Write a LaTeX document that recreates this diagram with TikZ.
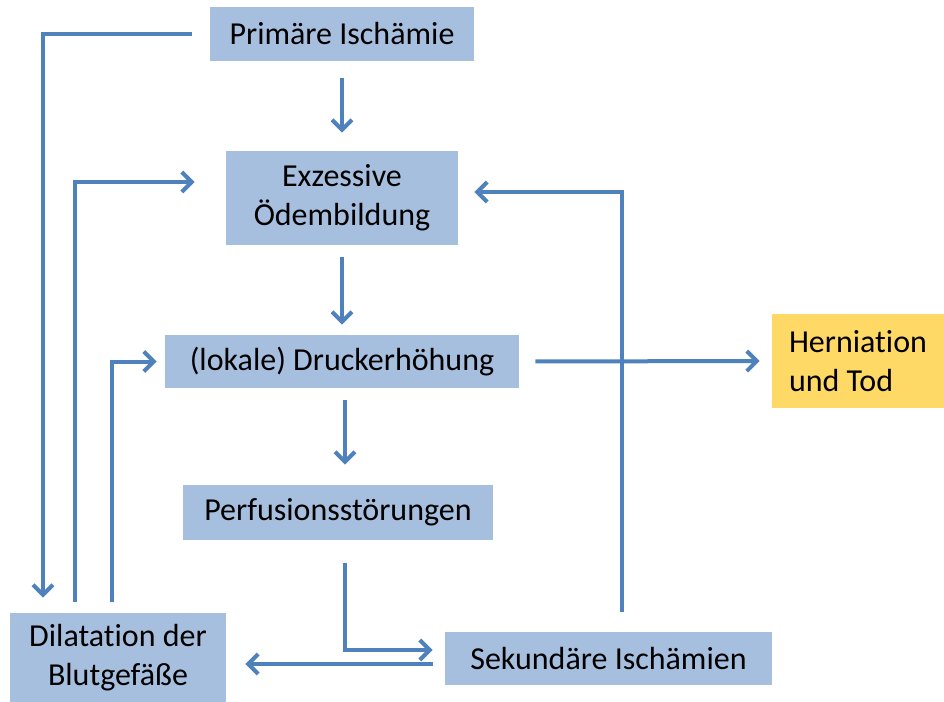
\documentclass[tikz,border=0pt]{standalone}
\usepackage{fontspec}
\setmainfont{Carlito}[Ligatures=NoCommon]
\usetikzlibrary{positioning}
\usetikzlibrary{arrows.meta}

\definecolor{boxblue}{RGB}{167,191,222}
\definecolor{lineblue}{RGB}{79,129,189}
\definecolor{boxgold}{RGB}{255,217,102}

\tikzset{
	box/.style={fill=boxblue, inner sep=0pt, align=center, font=\fontsize{16}{19.5}\selectfont},
	flow/.style={draw=lineblue, line width=2pt, -{Straight Barb[length=5pt,width=10pt]}},
}

\begin{document}
\begin{tikzpicture}[x=0.5pt, y=-0.5pt]
	\useasboundingbox (0,0) rectangle (944,702);

	\node[box, minimum width=132pt, minimum height=27pt] (prim) at (342,34) {Primäre Ischämie};
	\node[box, minimum width=116pt, minimum height=47pt] (oedem) at (342,198) {Exzessive\\Ödembildung};
	\node[box, minimum width=177pt, minimum height=26.5pt] (druck) at (342,361.5) {(lokale) Druckerhöhung};
	\node[box, minimum width=155pt, minimum height=27.5pt] (perf) at (338,512.5) {Perfusionsstörungen};
	\node[box, minimum width=108pt, minimum height=44.5pt] (dilat) at (118,657.5) {Dilatation der\\Blutgefäße};
	\node[box, minimum width=163.5pt, minimum height=26.5pt] (sek) at (608.5,658.5) {Sekundäre Ischämien};
	\node[box, fill=boxgold, align=left, minimum width=86pt, minimum height=47pt] (hern) at (858,361) {Herniation\\und Tod};

	% rails and rows for the bent lines
	\coordinate (railL) at (43,0);
	\coordinate (railM) at (75,0);
	\coordinate (railR) at (112,0);
	\coordinate (railP) at (345,0);
	\coordinate (railS) at (622,0);
	\coordinate (rowO) at (0,182);
	\coordinate (rowS) at (0,192);
	\coordinate (rowP) at (0,650);
	\coordinate (rowD) at (0,664);

	\path [flow, shorten <=8.5pt, shorten >=9pt] (prim.south) -- (oedem.north);
	\path [flow, shorten <=6pt, shorten >=5pt] (oedem.south) -- (druck.north);
	\path [flow, shorten <=6pt, shorten >=10pt] (railP |- druck.south) -- (railP |- perf.north);
	\path [flow, shorten <=11.5pt, shorten >=6pt] (railP |- perf.south) |- (rowP -| sek.west);
	\path [flow, shorten <=6pt, shorten >=9.5pt] (rowD -| sek.west) -- (rowD -| dilat.east);
	\path [flow, shorten <=10pt, shorten >=8pt] (railS |- sek.north) |- (rowS -| oedem.east);
	\path [flow, shorten <=8pt, shorten >=6pt] (druck.east) -- (hern.west);
	\path [flow, shorten <=9pt, shorten >=7.5pt] (prim.west) -| (railL |- dilat.north);
	\path [flow, shorten <=5.5pt, shorten >=15.5pt] (railM |- dilat.north) |- (rowO -| oedem.west);
	\path [flow, shorten <=5.5pt, shorten >=4pt] (railR |- dilat.north) |- (druck.west);
\end{tikzpicture}
\end{document}
